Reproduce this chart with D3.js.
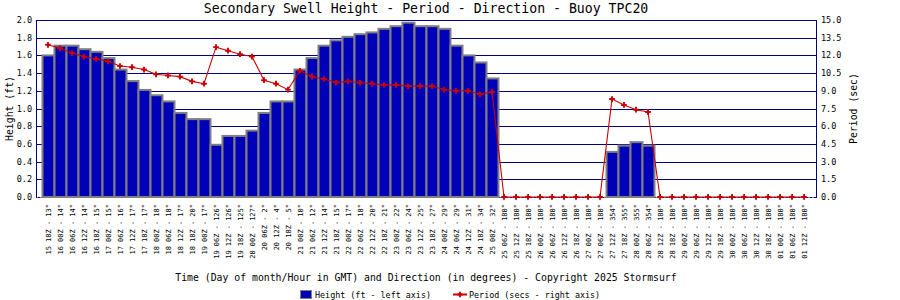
<!DOCTYPE html>
<html>
<head>
<meta charset="utf-8">
<script src="https://cdn.jsdelivr.net/npm/d3@7"></script>
<style>
  body { margin: 0; background: #fff; }
  svg { display: block; font-family: "DejaVu Sans Mono", monospace; }
</style>
</head>
<body>
<svg id="chart" width="900" height="300"></svg>
<script>
const times = [
  "15 18Z", "16 00Z", "16 06Z", "16 12Z", "16 18Z", "17 00Z", "17 06Z", "17 12Z",
  "17 18Z", "18 00Z", "18 06Z", "18 12Z", "18 18Z", "19 00Z", "19 06Z", "19 12Z",
  "19 18Z", "20 00Z", "20 06Z", "20 12Z", "20 18Z", "21 00Z", "21 06Z", "21 12Z",
  "21 18Z", "22 00Z", "22 06Z", "22 12Z", "22 18Z", "23 00Z", "23 06Z", "23 12Z",
  "23 18Z", "24 00Z", "24 06Z", "24 12Z", "24 18Z", "25 00Z", "25 06Z", "25 12Z",
  "25 18Z", "26 00Z", "26 06Z", "26 12Z", "26 18Z", "27 00Z", "27 06Z", "27 12Z",
  "27 18Z", "28 00Z", "28 06Z", "28 12Z", "28 18Z", "29 00Z", "29 06Z", "29 12Z",
  "29 18Z", "30 00Z", "30 06Z", "30 12Z", "30 18Z", "01 00Z", "01 06Z", "01 12Z"
];
const directions = [
  13, 14, 14, 14, 15, 15, 16, 17, 17, 18, 18, 17, 20, 17, 126, 126,
  125, 127, 2, 4, 5, 10, 12, 14, 15, 17, 18, 20, 21, 22, 24, 25,
  27, 29, 29, 31, 34, 32, 180, 180, 180, 180, 180, 180, 180, 180, 180, 354,
  355, 355, 354, 180, 180, 180, 180, 180, 180, 180, 180, 180, 180, 180, 180, 180
];
const heights = [
  1.60, 1.71, 1.71, 1.67, 1.64, 1.57, 1.44, 1.31, 1.21, 1.15, 1.08, 0.95, 0.88, 0.88, 0.59, 0.69,
  0.69, 0.75, 0.95, 1.08, 1.08, 1.44, 1.57, 1.71, 1.77, 1.81, 1.84, 1.86, 1.90, 1.93, 1.97, 1.93,
  1.93, 1.90, 1.71, 1.60, 1.52, 1.34, 0, 0, 0, 0, 0, 0, 0, 0, 0, 0.51,
  0.58, 0.62, 0.58, 0, 0, 0, 0, 0, 0, 0, 0, 0, 0, 0, 0, 0
];
const periods = [
  12.9, 12.6, 12.2, 11.9, 11.7, 11.5, 11.1, 11.0, 10.8, 10.4, 10.3, 10.2, 9.8, 9.6, 12.7, 12.4,
  12.1, 11.9, 9.9, 9.6, 9.1, 10.7, 10.2, 10.0, 9.7, 9.8, 9.7, 9.6, 9.5, 9.5, 9.4, 9.4,
  9.4, 9.1, 9.0, 9.0, 8.7, 8.9, 0, 0, 0, 0, 0, 0, 0, 0, 0, 8.3,
  7.8, 7.4, 7.2, 0, 0, 0, 0, 0, 0, 0, 0, 0, 0, 0, 0, 0
];
const heightTicks = d3.range(0, 2.01, 0.2);
const periodTicks = d3.range(0, 15.01, 1.5);

const navy = "#000080", barBlue = "#0000b8", red = "#cc0000", gray = "#808080";
const plotLeft = 36, plotRight = 816, plotTop = 20, plotBottom = 197;

const svg = d3.select("#chart");

const x = d3.scalePoint().domain(d3.range(times.length)).range([plotLeft, plotRight]).padding(1);
const yL = d3.scaleLinear().domain([0, 2]).range([plotBottom, plotTop]);
const yR = d3.scaleLinear().domain([0, 15]).range([plotBottom, plotTop]);
const step = x.step();

// grid
svg.append("g")
  .selectAll("line")
  .data(heightTicks)
  .join("line")
  .attr("x1", plotLeft)
  .attr("x2", plotRight)
  .attr("y1", d => Math.round(yL(d)) + 0.5)
  .attr("y2", d => Math.round(yL(d)) + 0.5)
  .attr("stroke", navy)
  .attr("stroke-width", 1);

// small ticks on baseline
svg.append("g")
  .selectAll("line")
  .data(d3.range(times.length))
  .join("line")
  .attr("x1", d => x(d) + 0.5)
  .attr("x2", d => x(d) + 0.5)
  .attr("y1", plotBottom - 3)
  .attr("y2", plotBottom)
  .attr("stroke", navy);

// baseline
svg.append("line")
  .attr("x1", plotLeft).attr("x2", plotRight)
  .attr("y1", plotBottom + 0.5).attr("y2", plotBottom + 0.5)
  .attr("stroke", gray)
  .attr("stroke-dasharray", "2,2");

// bars
svg.append("g")
  .selectAll("rect")
  .data(heights.map((h, i) => ({ h, i })).filter(d => d.h > 0))
  .join("rect")
  .attr("x", d => x(d.i) - step / 2 + 0.5)
  .attr("width", step)
  .attr("y", d => yL(d.h))
  .attr("height", d => yL(0) - yL(d.h))
  .attr("fill", barBlue)
  .attr("stroke", gray)
  .attr("stroke-width", 2);

// period line
const line = d3.line()
  .x((d, i) => x(i))
  .y(d => yR(d));

svg.append("path")
  .datum(periods)
  .attr("d", line)
  .attr("fill", "none")
  .attr("stroke", red)
  .attr("stroke-width", 1.1);

svg.append("g")
  .selectAll("path")
  .data(periods)
  .join("path")
  .attr("transform", (d, i) => `translate(${x(i)},${yR(d)})`)
  .attr("d", d3.symbol(d3.symbolCross, 18))
  .attr("fill", red);

// axis lines
svg.append("line")
  .attr("x1", plotLeft + 0.5).attr("x2", plotLeft + 0.5)
  .attr("y1", plotTop).attr("y2", plotBottom + 1)
  .attr("stroke", navy);
svg.append("line")
  .attr("x1", plotRight + 0.5).attr("x2", plotRight + 0.5)
  .attr("y1", plotTop).attr("y2", plotBottom + 1)
  .attr("stroke", navy);

// tick labels
svg.append("g")
  .selectAll("text")
  .data(heightTicks)
  .join("text")
  .attr("x", plotLeft - 4)
  .attr("y", d => yL(d) + 3)
  .attr("text-anchor", "end")
  .attr("font-size", 8.5)
  .text(d => d3.format(".1f")(d));

svg.append("g")
  .selectAll("text")
  .data(periodTicks)
  .join("text")
  .attr("x", plotRight + 5)
  .attr("y", d => yR(d) + 3)
  .attr("font-size", 8.5)
  .text(d => d3.format(".1f")(d));

svg.append("g")
  .selectAll("text")
  .data(times)
  .join("text")
  .attr("transform", (d, i) => `translate(${x(i) + 2.5},${plotBottom + 7}) rotate(-90)`)
  .attr("text-anchor", "end")
  .attr("font-size", 7)
  .text((d, i) => `${d} - ${directions[i]}°`);

// titles
svg.append("text")
  .attr("x", (plotLeft + plotRight) / 2)
  .attr("y", 13)
  .attr("text-anchor", "middle")
  .attr("font-size", 13.2)
  .attr("font-weight", 300)
  .text("Secondary Swell Height - Period - Direction - Buoy TPC20");

svg.append("text")
  .attr("x", (plotLeft + plotRight) / 2)
  .attr("y", 281)
  .attr("text-anchor", "middle")
  .attr("font-size", 9.8)
  .text("Time (Day of month/Hour in GMT) and Direction (in degrees) - Copyright 2025 Stormsurf");

svg.append("text")
  .attr("transform", `translate(13,${(plotTop + plotBottom) / 2}) rotate(-90)`)
  .attr("text-anchor", "middle")
  .attr("font-size", 9.8)
  .text("Height (ft)");

svg.append("text")
  .attr("transform", `translate(857,${(plotTop + plotBottom) / 2}) rotate(-90)`)
  .attr("text-anchor", "middle")
  .attr("font-size", 9.8)
  .text("Period (sec)");

// legend
const legend = svg.append("g");
legend.append("rect")
  .attr("x", 300.5).attr("y", 290.5)
  .attr("width", 11).attr("height", 8)
  .attr("fill", barBlue)
  .attr("stroke", gray);
legend.append("text")
  .attr("x", 315).attr("y", 298)
  .attr("font-size", 8.4)
  .text("Height (ft - left axis)");
legend.append("line")
  .attr("x1", 453).attr("x2", 467)
  .attr("y1", 294.5).attr("y2", 294.5)
  .attr("stroke", red)
  .attr("stroke-width", 2);
legend.append("path")
  .attr("transform", "translate(460,294.5)")
  .attr("d", d3.symbol(d3.symbolCross, 18))
  .attr("fill", red);
legend.append("text")
  .attr("x", 469).attr("y", 298)
  .attr("font-size", 8.4)
  .text("Period (secs - right axis)");
</script>
</body>
</html>
